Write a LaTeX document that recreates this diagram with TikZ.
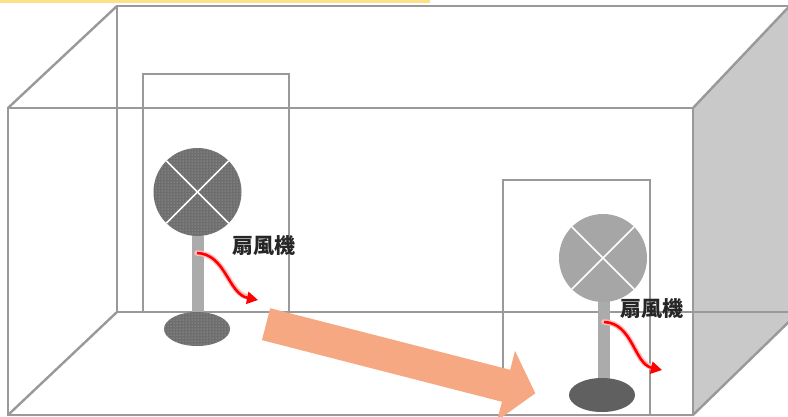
\documentclass[tikz,border=0pt]{standalone}
\usepackage{fontspec}
\newfontfamily\cjk{Noto Sans CJK JP}
\usetikzlibrary{patterns,shapes.arrows,arrows.meta}
\definecolor{wallline}{HTML}{999999}
\definecolor{sideface}{HTML}{C9C9C9}
\definecolor{fandark}{HTML}{6E6E6E}
\definecolor{fanlight}{HTML}{A6A6A6}
\definecolor{polegray}{HTML}{ABABAB}
\definecolor{flowsalmon}{HTML}{F6A883}
\definecolor{topstrip}{HTML}{FFE08A}

\begin{document}
\begin{tikzpicture}[x=1pt,y=-1pt,
    wall/.style={draw=wallline,line width=2.4pt},
    dotfill/.style={fill=fandark,postaction={pattern=dots,pattern color=gray!55}},
    cross/.style={draw=white,line width=1.6pt},
    swirl/.style={red,line width=2.6pt,-{Triangle[length=11pt,width=12pt]}},
    swirlglow/.style={red!25,line width=5.5pt,line cap=round},
    fanlabel/.style={font=\cjk\bfseries\fontsize{21}{21}\selectfont,text=black!85,inner sep=0pt}]
  \useasboundingbox (0,0) rectangle (788,416);
  \clip (0,0) rectangle (788,416);
  \fill[white] (0,0) rectangle (788,416);
  \fill[topstrip] (0,0) rectangle (430,2.5);

  % room
  \fill[sideface] (693,108) -- (800,-5) -- (800,311) -- (693,415) -- cycle;
  \draw[wall] (117,6) rectangle (800,312);
  \draw[wall] (8,108) -- (693,108) -- (693,415) -- (8,415) -- cycle;
  \draw[wall] (8,108) -- (117,6);
  \draw[wall] (8,415) -- (117,312);
  \draw[wall] (693,108) -- (800,-5);
  \draw[wall] (693,415) -- (800,311);

  % doors
  \draw[wall] (143,312) |- (289,74) -- (289,312);
  \draw[wall] (503,416) |- (650,180) -- (650,416);

  % airflow between the fans
  \node[single arrow,fill=flowsalmon,draw=none,rotate=-14.4,
        minimum height=278pt,minimum width=72pt,
        text height=0pt,text depth=0pt,inner xsep=0pt,inner ysep=15pt,
        single arrow head extend=18pt,single arrow tip angle=100]
        (flow) at (394,357) {};

  % left fan
  \fill[polegray] (192,236) rectangle (204,318);
  \path[dotfill] (197,329) ellipse (33 and 17);
  \path[dotfill] (197.5,192) circle (44);
  \draw[cross] (197.5,192) ++(45:44) -- ++(225:88);
  \draw[cross] (197.5,192) ++(135:44) -- ++(315:88);
  \node[fanlabel] (label1) at (264,246) {扇風機};
  \coordinate (s1) at (197,253);
  \coordinate (t1) at (258,300);
  \draw[swirlglow] (s1) .. controls (226,254) and (228,294) .. (248,297);
  \draw[swirl] (s1) .. controls (226,254) and (228,294) .. (t1);

  % right fan
  \fill[polegray] (598,300) rectangle (610,384);
  \fill[fandark!110] (602,395) ellipse (33 and 17);
  \fill[fanlight] (603,258) circle (44);
  \draw[cross] (603,258) ++(45:44) -- ++(225:88);
  \draw[cross] (603,258) ++(135:44) -- ++(315:88);
  \node[fanlabel] (label2) at (652,309) {扇風機};
  \coordinate (s2) at (604,322);
  \coordinate (t2) at (662,370);
  \draw[swirlglow] (s2) .. controls (633,323) and (634,364) .. (652,367);
  \draw[swirl] (s2) .. controls (633,323) and (634,364) .. (t2);
\end{tikzpicture}
\end{document}
